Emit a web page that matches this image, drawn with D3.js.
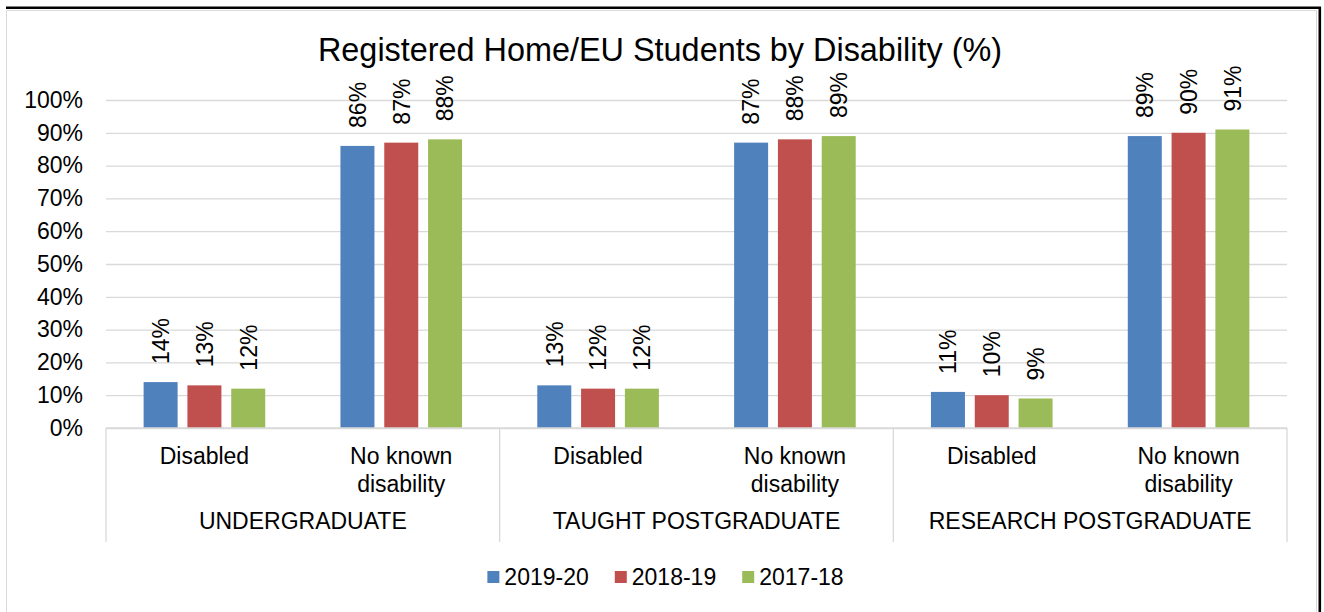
<!DOCTYPE html>
<html>
<head>
<meta charset="utf-8">
<script src="https://cdn.jsdelivr.net/npm/d3@7"></script>
<style>
  body { margin: 0; background: #fff; }
  text { font-family: "Liberation Sans", Arial, sans-serif; fill: #000; }
</style>
</head>
<body>
<div id="chart"></div>
<script>
// Chart data
const groups = ["UNDERGRADUATE", "TAUGHT POSTGRADUATE", "RESEARCH POSTGRADUATE"];
const subcats = ["Disabled", "No known disability"];
const subcatLines = [["Disabled"], ["No known", "disability"]];
const seriesNames = ["2019-20", "2018-19", "2017-18"];
const values2019 = [14, 86, 13, 87, 11, 89];
const values2018 = [13, 87, 12, 88, 10, 90];
const values2017 = [12, 88, 12, 89, 9, 91];
const yTicks = [0, 10, 20, 30, 40, 50, 60, 70, 80, 90, 100];
const colors = ["#4F81BD", "#C0504D", "#9BBB59"];

const width = 1324, height = 612;
const margin = { left: 106, right: 37, top: 100, bottom: 184 };
const innerWidth = width - margin.left - margin.right;
const innerHeight = height - margin.top - margin.bottom;
const fs = "23px";

// Build category keys (group + sub category)
const categories = [];
groups.forEach(g => subcats.forEach((s, j) => categories.push({ group: g, sub: s, lines: subcatLines[j], key: g + "|" + s })));
const seriesValues = [values2019, values2018, values2017];
const rows = categories.map((c, i) => ({ ...c, vals: seriesValues.map(v => v[i]) }));

const svg = d3.select("#chart").append("svg")
    .attr("width", width)
    .attr("height", height);

// Chart frame
svg.append("path")
    .attr("d", "M6.5,612V10.5H1316.5V612")
    .attr("fill", "none").attr("stroke", "#D9D9D9").attr("stroke-width", 1);
svg.append("path")
    .attr("d", "M6,7.8H1319.8V612")
    .attr("fill", "none").attr("stroke", "#000").attr("stroke-width", 2.6);

// Title
svg.append("text")
    .attr("x", 660).attr("y", 61)
    .attr("text-anchor", "middle")
    .style("font-size", "32.4px")
    .text("Registered Home/EU Students by Disability (%)");

const inner = svg.append("g").attr("transform", `translate(${margin.left},${margin.top})`);

// Scales
const x0 = d3.scaleBand().domain(categories.map(c => c.key)).range([0, innerWidth]).padding(0);
const clusterW = 121.6;
const x1 = d3.scaleBand().domain(seriesNames)
    .range([(x0.bandwidth() - clusterW) / 2, (x0.bandwidth() + clusterW) / 2])
    .paddingInner(0.224).paddingOuter(0);
const y = d3.scaleLinear().domain([0, 100]).range([innerHeight, 0]);
const color = d3.scaleOrdinal().domain(seriesNames).range(colors);

// Left axis with gridlines
const leftAxis = d3.axisLeft(y)
    .tickValues(yTicks)
    .tickSize(-innerWidth)
    .tickPadding(23)
    .tickFormat(d => d + "%");
const yAxisG = inner.append("g").call(leftAxis);
yAxisG.select(".domain").remove();
yAxisG.selectAll(".tick line").attr("stroke", "#D9D9D9").attr("stroke-width", 1.3);
yAxisG.selectAll(".tick text")
    .style("font-size", fs)
    .attr("fill", "#000");

// Bars
const catG = inner.selectAll(".cat")
    .data(rows)
    .join("g")
    .attr("class", "cat")
    .attr("transform", d => `translate(${x0(d.key)},0)`);

catG.selectAll("rect")
    .data(d => d.vals.map((v, i) => ({ name: seriesNames[i], value: v })))
    .join("rect")
    .attr("x", d => x1(d.name))
    .attr("y", d => y(d.value))
    .attr("width", x1.bandwidth())
    .attr("height", d => innerHeight - y(d.value))
    .attr("fill", d => color(d.name));

// Data labels, rotated
catG.selectAll(".lbl")
    .data(d => d.vals.map((v, i) => ({ name: seriesNames[i], value: v })))
    .join("text")
    .attr("class", "lbl")
    .attr("transform", d => `translate(${x1(d.name) + x1.bandwidth() / 2},${y(d.value) - 18}) rotate(-90)`)
    .attr("dy", "0.36em")
    .attr("text-anchor", "start")
    .style("font-size", fs)
    .text(d => d.value + "%");

// Bottom axis line
inner.append("line")
    .attr("x1", 0).attr("x2", innerWidth)
    .attr("y1", innerHeight).attr("y2", innerHeight)
    .attr("stroke", "#D9D9D9").attr("stroke-width", 1.3);

// Group separators
const groupEdges = [0, 2, 4, 6].map(i => i < 6 ? x0(categories[i].key) : innerWidth);
inner.selectAll(".sep")
    .data(groupEdges)
    .join("line")
    .attr("class", "sep")
    .attr("x1", d => d).attr("x2", d => d)
    .attr("y1", innerHeight).attr("y2", innerHeight + 114)
    .attr("stroke", "#D9D9D9").attr("stroke-width", 1.3);

// Sub category labels
catG.append("text")
    .attr("text-anchor", "middle")
    .style("font-size", fs)
    .selectAll("tspan")
    .data(d => d.lines)
    .join("tspan")
    .attr("x", x0.bandwidth() / 2)
    .attr("y", (d, i) => innerHeight + 36 + i * 28)
    .text(d => d);

// Group labels
inner.selectAll(".grp")
    .data(groups)
    .join("text")
    .attr("class", "grp")
    .attr("x", (g, i) => (groupEdges[i] + groupEdges[i + 1]) / 2)
    .attr("y", innerHeight + 101)
    .attr("text-anchor", "middle")
    .style("font-size", fs)
    .text(d => d);

// Legend
const legend = svg.append("g").attr("class", "legend");
const items = legend.selectAll("g")
    .data(seriesNames)
    .join("g");
items.append("rect")
    .attr("width", 12).attr("height", 12)
    .attr("y", 571)
    .attr("fill", d => color(d));
items.append("text")
    .attr("x", 17)
    .attr("y", 585)
    .style("font-size", fs)
    .text(d => d);
let cursor = 0;
const offsets = [];
items.each(function () {
    offsets.push(cursor);
    const w = 17 + d3.select(this).select("text").node().getComputedTextLength();
    cursor += w + 26;
});
const totalW = cursor - 26;
const startX = 665.5 - totalW / 2;
items.attr("transform", (d, i) => `translate(${startX + offsets[i]},0)`);
</script>
</body>
</html>
